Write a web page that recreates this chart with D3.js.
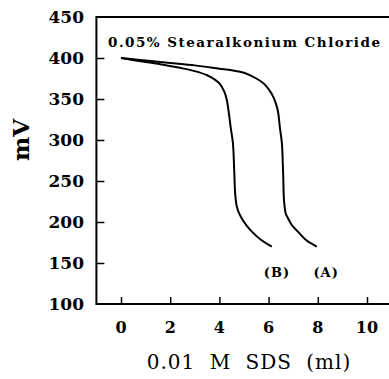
<!DOCTYPE html>
<html>
<head>
<meta charset="utf-8">
<script src="https://cdn.jsdelivr.net/npm/d3@7"></script>
<style>
  html, body { margin: 0; padding: 0; background: #fff; }
  svg { display: block; }
  text { font-family: "DejaVu Serif", "Liberation Serif", serif; fill: #000; }
</style>
</head>
<body>
<svg id="chart" width="389" height="379"></svg>
<script>
// Titration curves: potential (mV) vs volume of 0.01 M SDS added
const xTicks = [0, 2, 4, 6, 8, 10];
const yTicks = [100, 150, 200, 250, 300, 350, 400, 450];

const volA = [0, 1, 2, 3, 4, 4.5, 5, 5.5, 5.8, 6.0, 6.2, 6.3, 6.38, 6.46, 6.54, 6.59, 6.63, 6.7, 6.8, 6.95, 7.2, 7.52, 7.96];
const mvA  = [400, 397, 394, 391, 387, 385, 382, 375, 369, 362, 352, 344, 335, 315, 296, 260, 225, 210, 204, 196, 188, 178, 170];

const volB = [0, 0.8, 1.6, 2.4, 3.0, 3.5, 3.8, 4.0, 4.2, 4.3, 4.37, 4.46, 4.55, 4.6, 4.64, 4.7, 4.78, 4.9, 5.1, 5.33, 5.7, 6.13];
const mvB  = [400, 396, 392.5, 388, 384, 379, 374, 369, 359, 349, 336, 315, 296, 265, 235, 220, 212, 205, 196, 188, 178, 170];

const title = "0.05% Stearalkonium Chloride";
const curveLabels = [{text: "(B)", x: 6.34, y: 139}, {text: "(A)", x: 8.34, y: 139}];

const svg = d3.select("#chart");
const x = d3.scaleLinear().domain([-1, 11]).range([96.4, 391.6]);
const y = d3.scaleLinear().domain([100, 450]).range([304, 17]);

// Frame (left, top, bottom)
svg.append("path")
  .attr("d", `M${x(11)+2},${y(450)} H${x(-1)} V${y(100)} H${x(11)+2}`)
  .attr("fill", "none").attr("stroke", "#000").attr("stroke-width", 2);

// Y axis: inward ticks
const yAxis = d3.axisRight(y).tickValues(yTicks).tickSize(8).tickFormat("");
const gy = svg.append("g").attr("transform", `translate(${x(-1)},0)`).call(yAxis);
gy.select(".domain").remove();
gy.selectAll(".tick line").attr("stroke", "#000").attr("stroke-width", 1.5);
gy.selectAll(".tick").filter(d => d === 450 || d === 100).remove();

svg.append("g").selectAll("text").data(yTicks).join("text")
  .attr("x", 84).attr("y", d => y(d)).attr("dy", "0.36em")
  .attr("text-anchor", "end")
  .style("font-size", "17px").style("font-weight", "bold")
  .text(d => d);

// X axis: inward ticks
const xAxis = d3.axisTop(x).tickValues(xTicks).tickSize(7).tickFormat("");
const gx = svg.append("g").attr("transform", `translate(0,${y(100)})`).call(xAxis);
gx.select(".domain").remove();
gx.selectAll(".tick line").attr("stroke", "#000").attr("stroke-width", 1.5);

svg.append("g").selectAll("text").data(xTicks).join("text")
  .attr("x", d => x(d)).attr("y", 333)
  .attr("text-anchor", "middle")
  .style("font-size", "16px").style("font-weight", "bold")
  .text(d => d);

// Axis titles
svg.append("text")
  .attr("x", 249).attr("y", 369).attr("text-anchor", "middle")
  .style("font-size", "20px").style("letter-spacing", "1px").style("word-spacing", "7px")
  .text("0.01 M SDS (ml)");

svg.append("text")
  .attr("transform", "translate(29,140) rotate(-90)")
  .attr("text-anchor", "middle")
  .style("font-size", "23px").style("font-weight", "bold")
  .text("mV");

// Annotation
svg.append("text")
  .attr("x", 108).attr("y", 47)
  .attr("textLength", 272).attr("lengthAdjust", "spacing")
  .style("font-size", "13.5px").style("font-weight", "bold")
  .text(title);

// Curves
const line = d3.line().x(d => x(d[0])).y(d => y(d[1])).curve(d3.curveCatmullRom.alpha(0.5));
[[volA, mvA], [volB, mvB]].forEach(([vs, ms]) => {
  svg.append("path")
    .datum(vs.map((v, i) => [v, ms[i]]))
    .attr("d", line)
    .attr("fill", "none").attr("stroke", "#000").attr("stroke-width", 2);
});

svg.append("g").selectAll("text").data(curveLabels).join("text")
  .attr("x", d => x(d.x)).attr("y", d => y(d.y)).attr("dy", "0.36em")
  .attr("text-anchor", "middle")
  .style("font-size", "13px").style("font-weight", "bold").style("letter-spacing", "1px")
  .text(d => d.text);
</script>
</body>
</html>
